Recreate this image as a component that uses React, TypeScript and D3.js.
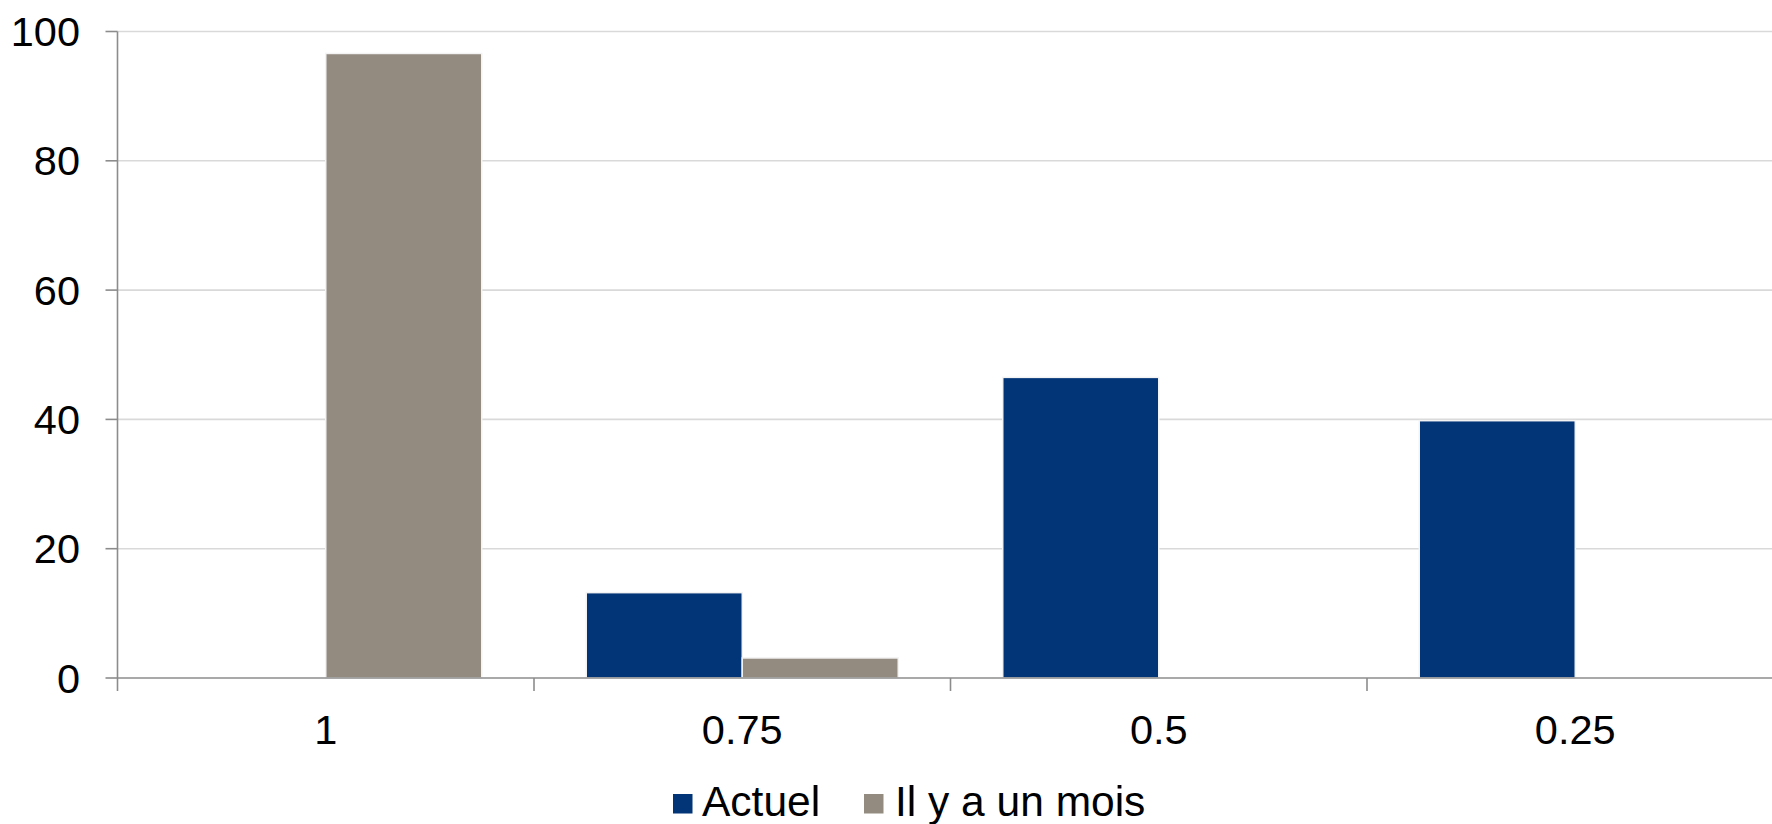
import React from "react";
import * as d3 from "d3";

const categories = ["1", "0.75", "0.5", "0.25"];
const seriesNames = ["Actuel", "Il y a un mois"];
const actuel = [0, 13.2, 46.5, 39.8];
const ilYaUnMois = [96.6, 3.1, 0, 0];
const yTicks = [0, 20, 40, 60, 80, 100];
const colors = ["#023478", "#938b80"];

const W = 1772;
const H = 824;
const left = 117.5;
const right = 1783.5;
const top = 31.5;
const bottom = 678;
const font = "'Liberation Sans', Arial, sans-serif";

export default function App() {
  const x = d3.scaleBand<string>().domain(categories).range([left, right]).paddingInner(0).paddingOuter(0);
  const inner = d3
    .scaleBand<string>()
    .domain(seriesNames)
    .range([0, x.bandwidth()])
    .paddingInner(0)
    .paddingOuter(0.335);
  const y = d3.scaleLinear().domain([0, 100]).range([bottom, top]);
  const values = [actuel, ilYaUnMois];

  const tickX = [...categories.map((c) => x(c) as number), right];

  return (
    <svg width={W} height={H} style={{ position: "absolute", left: 0, top: 0, background: "#fff" }} fontFamily={font}>
      {/* gridlines */}
      {yTicks.filter((t) => t > 0).map((t) => (
        <line key={"g" + t} x1={left} x2={W} y1={y(t)} y2={y(t)} stroke="#d9d9d9" strokeWidth={1.6} />
      ))}
      {/* bars */}
      {values.map((vals, si) =>
        vals.map((v, ci) =>
          v > 0 ? (
            <rect
              key={si + "-" + ci}
              x={(x(categories[ci]) as number) + (inner(seriesNames[si]) as number)}
              y={y(v)}
              width={inner.bandwidth()}
              height={bottom - y(v)}
              fill={colors[si]}
              stroke="#f3f3f3"
              strokeWidth={1.5}
            />
          ) : null
        )
      )}
      {/* y axis */}
      <line x1={left} x2={left} y1={top} y2={bottom} stroke="#8c8c8c" strokeWidth={1.6} />
      {yTicks.map((t) => (
        <g key={"y" + t}>
          <line x1={left - 12} x2={left} y1={y(t)} y2={y(t)} stroke="#8c8c8c" strokeWidth={1.6} />
          <text x={80} y={y(t)} dy="0.35em" textAnchor="end" fontSize={41.5} fill="#000">
            {t}
          </text>
        </g>
      ))}
      {/* x axis */}
      <line x1={left} x2={W} y1={bottom} y2={bottom} stroke="#8c8c8c" strokeWidth={1.6} />
      {tickX.map((tx, i) => (
        <line key={"xt" + i} x1={tx} x2={tx} y1={bottom} y2={bottom + 13} stroke="#8c8c8c" strokeWidth={1.6} />
      ))}
      {categories.map((c) => (
        <text key={"xl" + c} x={(x(c) as number) + x.bandwidth() / 2} y={744} textAnchor="middle" fontSize={41.5} fill="#000">
          {c}
        </text>
      ))}
      {/* legend */}
      <g>
        <rect x={673} y={794} width={19.5} height={19.5} fill={colors[0]} />
        <text x={702} y={816} fontSize={42.5} fill="#000">
          {seriesNames[0]}
        </text>
        <rect x={864} y={794} width={19.5} height={19.5} fill={colors[1]} />
        <text x={895} y={816} fontSize={42.5} fill="#000">
          {seriesNames[1]}
        </text>
      </g>
    </svg>
  );
}
